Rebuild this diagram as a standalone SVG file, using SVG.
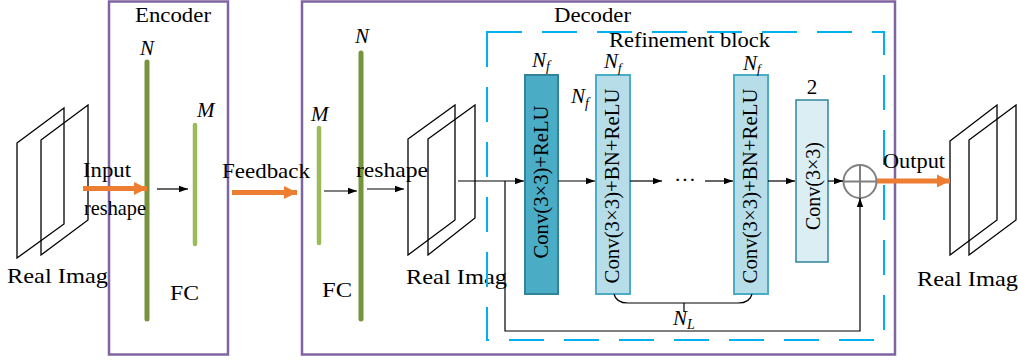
<svg xmlns="http://www.w3.org/2000/svg" width="1018" height="361" viewBox="0 0 1018 361">
<style>
text{font-family:"Liberation Serif","Times New Roman",serif;fill:#000;font-size:21px}
.it{font-style:italic}
.img{fill:none;stroke:#000;stroke-width:1.3}
.box{fill:none;stroke:#8064A2;stroke-width:2.5}
.dash{fill:none;stroke:#00B0F0;stroke-width:2;stroke-dasharray:35 20}
.ln{fill:none;stroke:#000;stroke-width:1.2}
.ar{fill:none;stroke:#000;stroke-width:1.2;marker-end:url(#ah)}
.or{fill:none;stroke:#ED7D31;stroke-width:5;marker-end:url(#oh)}
.barD{stroke:#77933C;stroke-width:5;stroke-linecap:round}
.barL{stroke:#9BBB59;stroke-width:4.5;stroke-linecap:round}
.b1{fill:#4BACC6;stroke:#31849B;stroke-width:2}
.b2{fill:#B7DEE8;stroke:#4BACC6;stroke-width:2}
.b4{fill:#DAEEF3;stroke:#31849B;stroke-width:1.5}
</style>
<defs>
<marker id="ah" markerWidth="10" markerHeight="8" refX="9" refY="4" orient="auto" markerUnits="userSpaceOnUse">
<path d="M0,0.8 L9,4 L0,7.2 Z" fill="#000"/>
</marker>
<marker id="oh" markerWidth="14" markerHeight="14" refX="13" refY="7" orient="auto" markerUnits="userSpaceOnUse">
<path d="M0,0.5 L13,7 L0,13.5 Z" fill="#ED7D31"/>
</marker>
</defs>

<g id="input-image">
<polygon class="img" points="17,143 64,108 64,224 17,258"/>
<polygon class="img" points="41,140 88,105 88,220 41,255"/>
<text x="7" y="283" textLength="101" lengthAdjust="spacingAndGlyphs">Real Imag</text>
</g>

<g id="encoder">
<rect class="box" x="109" y="1.5" width="119" height="353"/>
<text x="135" y="22" textLength="76" lengthAdjust="spacingAndGlyphs">Encoder</text>
<line class="barD" x1="147" y1="62" x2="147" y2="319"/>
<text class="it" x="140" y="55" font-size="20">N</text>
<line class="barL" x1="195" y1="125" x2="195" y2="244"/>
<text class="it" x="197" y="117" font-size="20">M</text>
<text x="170" y="300" textLength="29" lengthAdjust="spacingAndGlyphs">FC</text>
</g>

<g id="decoder">
<rect class="box" x="302" y="1.5" width="593" height="353"/>
<text x="554" y="22" textLength="77" lengthAdjust="spacingAndGlyphs">Decoder</text>
<line class="barL" x1="319" y1="128" x2="319" y2="243"/>
<text class="it" x="311" y="121" font-size="20">M</text>
<line class="barD" x1="361" y1="53" x2="361" y2="319"/>
<text class="it" x="355" y="43" font-size="20">N</text>
<text x="322" y="297" textLength="30" lengthAdjust="spacingAndGlyphs">FC</text>
</g>

<g id="decoder-image">
<polygon class="img" points="408,139 455,105 455,220 408,255"/>
<polygon class="img" points="428,139 475,105 475,218 428,255"/>
<text x="406" y="284" textLength="101" lengthAdjust="spacingAndGlyphs">Real Imag</text>
</g>

<g id="refinement-block">
<rect class="dash" x="487" y="32" width="397" height="308"/>
<text x="609" y="47" textLength="161" lengthAdjust="spacingAndGlyphs">Refinement block</text>
</g>

<g id="conv-relu">
<rect class="b1" x="525" y="75" width="33" height="219"/>
<text transform="translate(548,182) rotate(-90)" text-anchor="middle" textLength="153" lengthAdjust="spacingAndGlyphs">Conv(3×3)+ReLU</text>
<text class="it" x="532" y="67" font-size="19">N<tspan font-size="14" dy="4">f</tspan></text>
</g>

<g id="conv-bn-relu-1">
<rect class="b2" x="596" y="75" width="34" height="219"/>
<text transform="translate(619,186) rotate(-90)" text-anchor="middle" textLength="195" lengthAdjust="spacingAndGlyphs">Conv(3×3)+BN+ReLU</text>
<text class="it" x="604" y="68" font-size="18">N<tspan font-size="13" dy="4">f</tspan></text>
<text class="it" x="571" y="103" font-size="19">N<tspan font-size="14" dy="5">f</tspan></text>
</g>

<g id="dots">
<text x="685" y="187" text-anchor="middle" textLength="22" lengthAdjust="spacingAndGlyphs">···</text>
</g>

<g id="conv-bn-relu-n">
<rect class="b2" x="734" y="75" width="34" height="219"/>
<text transform="translate(757,186) rotate(-90)" text-anchor="middle" textLength="195" lengthAdjust="spacingAndGlyphs">Conv(3×3)+BN+ReLU</text>
<text class="it" x="743" y="70" font-size="18">N<tspan font-size="13" dy="3">f</tspan></text>
</g>

<g id="conv-out">
<rect class="b4" x="796" y="100" width="32" height="162"/>
<text transform="translate(820,186) rotate(-90)" text-anchor="middle" textLength="88" lengthAdjust="spacingAndGlyphs">Conv(3×3)</text>
<text x="812" y="94" text-anchor="middle">2</text>
</g>

<g id="sum">
<circle cx="860" cy="181.5" r="16.5" fill="#fff" stroke="#808080" stroke-width="2"/>
<line x1="843.5" y1="181.5" x2="876.5" y2="181.5" stroke="#808080" stroke-width="2"/>
<line x1="860" y1="165" x2="860" y2="198" stroke="#808080" stroke-width="2"/>
</g>

<g id="output-image">
<polygon class="img" points="950,141 997,105 997,220 950,255"/>
<polygon class="img" points="969,140 1016,105 1016,220 969,255"/>
<text x="917" y="286" textLength="101" lengthAdjust="spacingAndGlyphs">Real Imag</text>
</g>

<g id="connectors">
<path class="or" d="M83,188.5 H147"/>
<text x="83" y="177" textLength="48" lengthAdjust="spacingAndGlyphs">Input</text>
<text x="84" y="215" font-size="19" textLength="62" lengthAdjust="spacingAndGlyphs">reshape</text>
<path class="ar" d="M157,189 H188"/>
<path class="or" d="M232,192.5 H297"/>
<text x="222" y="178" textLength="88" lengthAdjust="spacingAndGlyphs">Feedback</text>
<path class="ar" d="M324,191 H357"/>
<path class="ar" d="M367,189 H404"/>
<text x="356" y="177" textLength="72" lengthAdjust="spacingAndGlyphs">reshape</text>
<path class="ar" d="M458,181 H524"/>
<path class="ar" d="M558,181 H595"/>
<path class="ar" d="M630,181 H662"/>
<path class="ar" d="M705,181 H733"/>
<path class="ar" d="M768,181 H795"/>
<path class="ar" d="M828,181 H843"/>
<path class="ar" d="M505,181 V331 H860 V198"/>
<path class="ln" d="M614,294 Q616,303 628,303 H738 Q750,303 752,294"/>
<path class="ln" d="M684,303 V312"/>
<text class="it" x="673" y="325" font-size="20">N<tspan font-size="14" dy="4">L</tspan></text>
<path class="or" d="M877,181 H950"/>
<text x="883" y="168" textLength="62" lengthAdjust="spacingAndGlyphs">Output</text>
</g>
</svg>
